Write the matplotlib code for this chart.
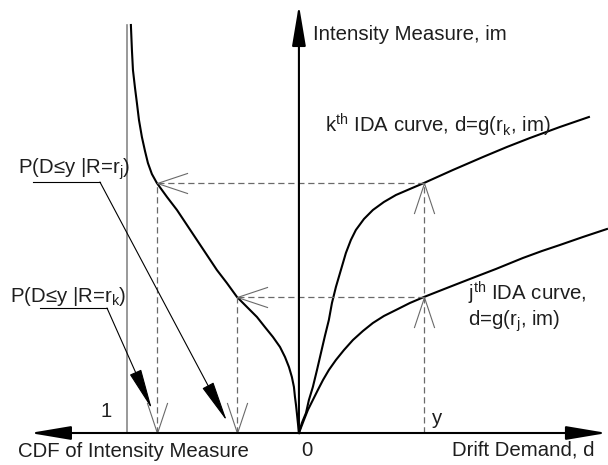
import matplotlib.pyplot as plt
from matplotlib.path import Path

plt.rcParams["font.family"] = ["Liberation Sans", "DejaVu Sans"]
plt.rcParams["mathtext.fontset"] = "custom"
plt.rcParams["mathtext.rm"] = "Liberation Sans"
plt.rcParams["mathtext.it"] = "Liberation Sans:italic"

# k-th IDA curve (drift, im)
k_drift = [0, 0.017, 0.041, 0.058, 0.081, 0.105, 0.128, 0.151, 0.174, 0.192, 0.215, 0.244,
           0.273, 0.302, 0.331, 0.378, 0.430, 0.494, 0.564, 0.645, 0.727, 0.895, 1.070,
           1.209, 1.343, 1.517, 1.686]
k_im = [0, 0.10, 0.20, 0.33, 0.46, 0.63, 0.80, 0.97, 1.13, 1.30, 1.46, 1.63,
        1.80, 1.93, 2.03, 2.14, 2.23, 2.31, 2.38, 2.44, 2.50, 2.63, 2.76,
        2.86, 2.95, 3.06, 3.16]

# j-th IDA curve
j_drift = [0, 0.029, 0.052, 0.081, 0.110, 0.140, 0.174, 0.215, 0.262, 0.314, 0.372, 0.430,
           0.494, 0.564, 0.645, 0.727, 0.860, 0.994, 1.145, 1.302, 1.413, 1.517, 1.651, 1.791]
j_im = [0, 0.13, 0.23, 0.33, 0.43, 0.53, 0.63, 0.73, 0.83, 0.93, 1.02, 1.10,
        1.17, 1.23, 1.30, 1.36, 1.45, 1.54, 1.64, 1.75, 1.82, 1.88, 1.96, 2.04]

# CDF of intensity measure (drawn to the left)
cdf_val = [0.977, 0.971, 0.965, 0.953, 0.942, 0.930, 0.913, 0.895, 0.878, 0.855, 0.826,
           0.767, 0.709, 0.651, 0.593, 0.535, 0.477, 0.419, 0.360, 0.302, 0.244, 0.198,
           0.151, 0.110, 0.081, 0.058, 0.041, 0.029, 0.023, 0.017, 0.012, 0.006, 0]
cdf_im = [4.08, 3.83, 3.63, 3.45, 3.30, 3.13, 2.96, 2.82, 2.70, 2.59, 2.50,
          2.36, 2.23, 2.08, 1.93, 1.78, 1.63, 1.50, 1.36, 1.26, 1.16, 1.06,
          0.96, 0.86, 0.76, 0.66, 0.56, 0.46, 0.36, 0.28, 0.20, 0.10, 0]

y_demand = 0.727
im_k, im_j = 2.50, 1.36
p_k, p_j = 0.826, 0.360

# leader lines for the two probability labels
lead_j_x = [-1.547, -1.157, -0.419]
lead_j_y = [2.51, 2.51, 0.12]
lead_k_x = [-1.506, -1.116, -0.855]
lead_k_y = [1.25, 1.25, 0.24]

fig = plt.figure(figsize=(6.08, 4.65), dpi=100)
ax = fig.add_axes([0, 0, 1, 1])
ax.set_xlim(-1.738, 1.797)
ax.set_ylim(-0.32, 4.33)
ax.axis("off")

grey = "#6a6a6a"
txt = "#1e1e1e"
fs = 14.7

# axes with arrowheads
ax.annotate("", xy=(1.791, 0), xytext=(-1.564, 0),
            arrowprops=dict(arrowstyle="<|-|>,head_length=2.5,head_width=0.42",
                            color="black", lw=1.5, shrinkA=0, shrinkB=0, mutation_scale=10))
ax.annotate("", xy=(0, 4.28), xytext=(0, 0),
            arrowprops=dict(arrowstyle="-|>,head_length=2.5,head_width=0.42",
                            color="black", lw=1.5, shrinkA=0, shrinkB=0, mutation_scale=10))

# CDF = 1 line
ax.plot([-1, -1], [0, cdf_im[0]], color="#888888", lw=1.2)

# curves
ax.plot(k_drift, k_im, color="black", lw=1.5)
ax.plot(j_drift, j_im, color="black", lw=1.5)
ax.plot([-v for v in cdf_val], cdf_im, color="black", lw=1.5)

# dashed guides
dash = dict(color=grey, lw=0.9, linestyle=(0, (5, 3)))
ax.plot([y_demand, -p_k], [im_k, im_k], **dash)
ax.plot([y_demand, -p_j], [im_j, im_j], **dash)
ax.plot([y_demand, y_demand], [0, im_k], **dash)
ax.plot([-p_k, -p_k], [0, im_k], **dash)
ax.plot([-p_j, -p_j], [0, im_j], **dash)

# open V arrowheads
codes = [Path.MOVETO, Path.LINETO, Path.LINETO]
v_left = Path([(3, 1), (0, 0), (3, -1)], codes)
v_up = Path([(-1, -3), (0, 0), (1, -3)], codes)
v_down = Path([(-1, 3), (0, 0), (1, 3)], codes)
mk = dict(linestyle="none", markersize=44, markerfacecolor="none",
          markeredgecolor=grey, markeredgewidth=0.8)
ax.plot([-p_k, -p_j], [im_k, im_j], marker=v_left, **mk)
ax.plot([y_demand, y_demand], [im_k, im_j], marker=v_up, **mk)
ax.plot([-p_k, -p_j], [0, 0], marker=v_down, **mk)

# leaders with filled arrowheads
for lx, ly in [(lead_j_x, lead_j_y), (lead_k_x, lead_k_y)]:
    ax.plot(lx[:2], ly[:2], color="black", lw=0.8)
    ax.annotate("", xy=(lx[2], ly[2]), xytext=(lx[1], ly[1]),
                arrowprops=dict(arrowstyle="-|>,head_length=2.6,head_width=0.4",
                                color="black", lw=0.8, shrinkA=0, shrinkB=0,
                                mutation_scale=10))

# texts
ax.text(0.081, 3.93, "Intensity Measure, im", fontsize=fs, color=txt, va="baseline")
ax.text(0.151, 3.01, r"k$^{\mathrm{th}}$ IDA curve, d=g(r$_{\mathrm{k}}$, im)",
        fontsize=fs, color=txt, va="baseline")
ax.text(0.983, 1.33, r"j$^{\mathrm{th}}$ IDA curve,", fontsize=fs, color=txt, va="baseline")
ax.text(0.983, 1.07, r"d=g(r$_{\mathrm{j}}$, im)", fontsize=fs, color=txt, va="baseline")
ax.text(0.773, 0.09, "y", fontsize=fs, color=txt, va="baseline")
ax.text(0.047, -0.17, "0", fontsize=fs, color=txt, ha="center", va="center")
ax.text(-1.122, 0.22, "1", fontsize=fs, color=txt, ha="center", va="center")
ax.text(-1.634, -0.18, "CDF of Intensity Measure", fontsize=fs, color=txt, va="center")
ax.text(1.721, -0.17, "Drift Demand, d", fontsize=fs, color=txt, ha="right", va="center")
ax.text(-1.634, 2.59, r"P(D≤y |R=r$_{\mathrm{j}}$)", fontsize=fs, color=txt, va="baseline")
ax.text(-1.680, 1.31, r"P(D≤y |R=r$_{\mathrm{k}}$)", fontsize=fs, color=txt, va="baseline")

fig.savefig("out.png", dpi=100)
